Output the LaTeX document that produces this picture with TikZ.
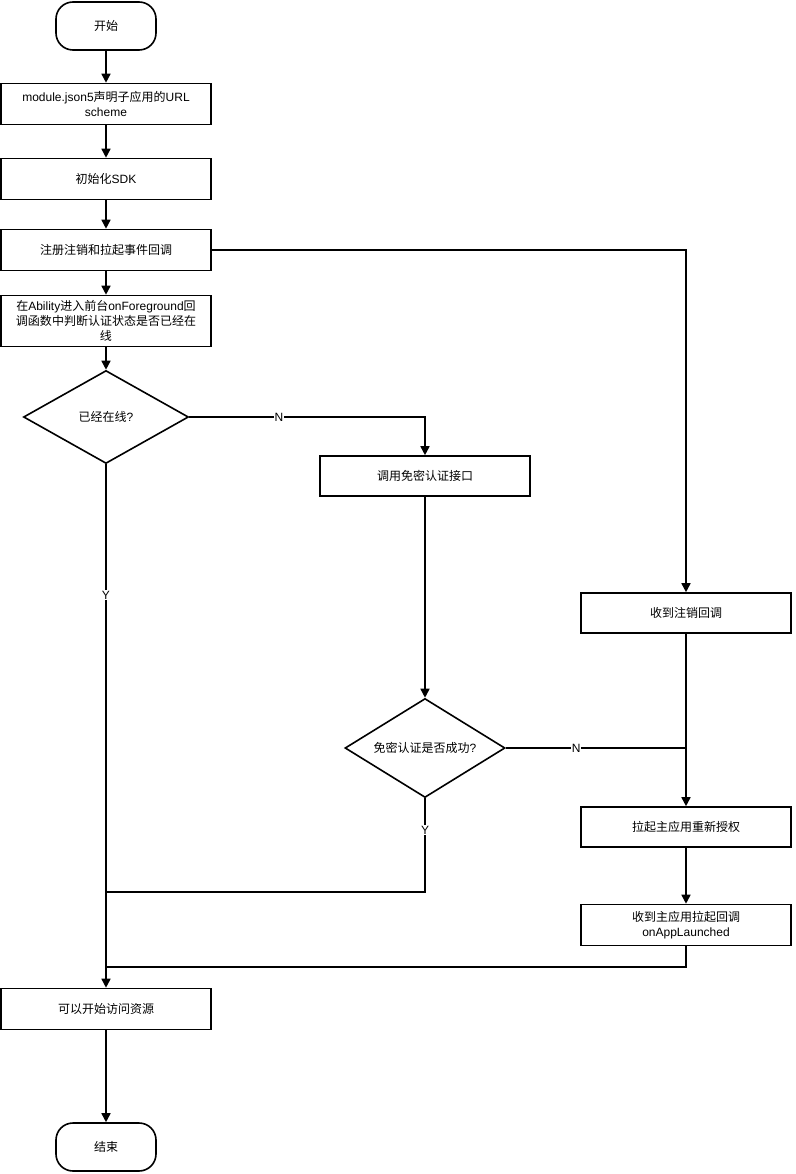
\documentclass[tikz,border=0pt]{standalone}
\usepackage{fontspec}
\setmainfont{Liberation Sans}
\newfontfamily\zh{Noto Sans CJK SC}
\usetikzlibrary{shapes.geometric}
\usetikzlibrary{arrows.meta}
\begin{document}
\begin{tikzpicture}[x=1pt, y=-1pt, line width=1.6pt,
    box/.style={draw, minimum width=210, minimum height=41, inner sep=2pt,
      align=center, font=\fontsize{12}{15}\selectfont},
    term/.style={draw, rounded corners=17pt, minimum width=100, minimum height=48,
      font=\fontsize{12}{14}\selectfont},
    dec/.style={draw, diamond, inner sep=0pt, font=\fontsize{12}{14}\selectfont},
    arr/.style={-{Triangle[length=9pt,width=9pt]}},
    lbl/.style={fill=white, inner sep=1pt, font=\fontsize{12}{14}\selectfont}]
  \useasboundingbox (0,0) rectangle (795,1174);

  \node[term] (start) at (106,26) {\zh 开始};
  \node[box] (mod) at (106,104) {module.json5{\zh 声明子应用的}URL\\scheme};
  \node[box] (sdk) at (106,179) {{\zh 初始化}SDK};
  \node[box] (reg) at (106,250) {\zh 注册注销和拉起事件回调};
  \node[box, minimum height=51] (abil) at (106,321)
    {{\zh 在}Ability{\zh 进入前台}onForeground{\zh 回}\\{\zh 调函数中判断认证状态是否已经在}\\{\zh 线}};
  \node[dec, aspect=1.77, minimum width=165, minimum height=93] (q1) at (106,417) {{\zh 已经在线}?};
  \node[box, minimum height=40] (call) at (425,476) {\zh 调用免密认证接口};
  \node[box, minimum height=40] (unreg) at (686,613) {\zh 收到注销回调};
  \node[dec, aspect=1.62, minimum width=160, minimum height=99] (q2) at (425,748) {{\zh 免密认证是否成功}?};
  \node[box, minimum height=40] (relaunch) at (686,827) {\zh 拉起主应用重新授权};
  \node[box] (cb) at (686,925) {{\zh 收到主应用拉起回调}\\onAppLaunched};
  \node[box] (res) at (106,1009) {\zh 可以开始访问资源};
  \node[term] (stop) at (106,1147) {\zh 结束};

  \coordinate (j1) at (425,892);
  \coordinate (j2) at (686,967);

  \draw[arr] (start) -- (mod);
  \draw[arr] (mod) -- (sdk);
  \draw[arr] (sdk) -- (reg);
  \draw[arr] (reg) -- (abil);
  \draw[arr] (abil) -- (q1);
  \draw[arr] (q1.east) -| node[lbl, pos=0.19]{N} (call);
  \draw[arr] (q1) -- node[lbl, pos=0.25]{Y} (res);
  \draw[arr] (reg) -| (unreg);
  \draw[arr] (call) -- (q2);
  \draw (q2.east) -- node[lbl, pos=0.39]{N} (q2.east -| unreg);
  \draw[arr] (unreg) -- (relaunch);
  \draw[arr] (relaunch) -- (cb);
  \draw (q2.south) |- node[lbl, pos=0.17]{Y} (res |- j1);
  \draw (cb) |- (res |- j2);
  \draw[arr] (res) -- (stop);
\end{tikzpicture}
\end{document}
